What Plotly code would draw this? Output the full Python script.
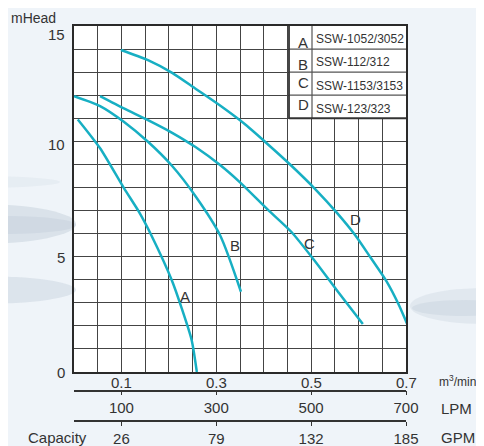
import plotly.graph_objects as go

# ---- data (capacity in m3/min vs head in m) ----
a_x = [0.008, 0.055, 0.105, 0.137, 0.163, 0.206, 0.227, 0.248, 0.259]
a_y = [10.95, 9.70, 7.98, 6.94, 5.93, 3.99, 2.77, 1.39, 0.0]
b_x = [0.0, 0.055, 0.105, 0.156, 0.207, 0.257, 0.308, 0.352]
b_y = [11.96, 11.53, 10.85, 9.98, 8.93, 7.6, 5.93, 3.48]
c_x = [0.055, 0.105, 0.156, 0.207, 0.257, 0.308, 0.350, 0.408, 0.458, 0.509, 0.559, 0.609]
c_y = [11.96, 11.43, 10.92, 10.37, 9.74, 8.97, 8.22, 7.05, 6.08, 4.78, 3.41, 2.08]
d_x = [0.099, 0.156, 0.207, 0.257, 0.308, 0.358, 0.405, 0.459, 0.509, 0.554, 0.593, 0.626,
       0.659, 0.684, 0.705]
d_y = [13.96, 13.52, 12.97, 12.27, 11.55, 10.78, 9.94, 8.93, 7.92, 6.91, 5.93, 4.94,
       3.93, 2.95, 1.96]

curve_letters = ["A", "B", "C", "D"]
curve_label_x = [0.235, 0.339, 0.496, 0.593]
curve_label_y = [3.29, 5.5, 5.58, 6.62]
models = ["SSW-1052/3052", "SSW-112/312", "SSW-1153/3153", "SSW-123/323"]

m3_ticks = [0.1, 0.3, 0.5, 0.7]
m3_labels = ["0.1", "0.3", "0.5", "0.7"]
lpm_labels = ["100", "300", "500", "700"]
gpm_labels = ["26", "79", "132", "185"]
y_ticks = [0, 5, 10, 15]

# page body has an 8px margin -> work in reference pixels, shifted
OFF = 8
W, H = 484 - OFF, 446 - OFF
L = 74 - OFF
T = 26 - OFF
R = W - (406 - OFF)
B = H - (430 - OFF)
PW, PH = W - L - R, H - T - B


def px_x(px):
    return (px - OFF - L) / PW


def px_y(py):
    return (H - B - (py - OFF)) / PH


CURVE = "#17afc3"
TXT = "#333333"
GRID = "#444444"
FONT = "Liberation Sans, Arial, sans-serif"

fig = go.Figure()
for xs, ys in [(a_x, a_y), (b_x, b_y), (c_x, c_y), (d_x, d_y)]:
    fig.add_trace(go.Scatter(x=xs, y=ys, mode="lines",
                             line=dict(color=CURVE, width=2.5, shape="spline", smoothing=0.7),
                             showlegend=False, hoverinfo="skip"))
# dummy traces for the extra capacity axes
fig.add_trace(go.Scatter(x=[None], y=[None], xaxis="x2", showlegend=False, hoverinfo="skip"))
fig.add_trace(go.Scatter(x=[None], y=[None], xaxis="x3", showlegend=False, hoverinfo="skip"))

main_bottom = px_y(372)

fig.update_layout(
    width=W, height=H,
    margin=dict(l=L, r=R, t=T, b=B, autoexpand=False),
    paper_bgcolor="#eff4f9",
    plot_bgcolor="white",
    font=dict(family=FONT, color=TXT, size=15),
    xaxis=dict(range=[0, 0.7], domain=[0, 1], tickmode="array", tickvals=m3_ticks,
               showticklabels=False, ticks="", showgrid=True,
               gridcolor=GRID, gridwidth=1, automargin=False,
               minor=dict(dtick=0.05, tick0=0, showgrid=True, gridcolor=GRID, gridwidth=1),
               showline=True, linecolor="#2a2a2a", linewidth=2, mirror=True,
               zeroline=False),
    yaxis=dict(range=[0, 15], domain=[main_bottom, 1], tickmode="array", tickvals=y_ticks,
               showticklabels=False, ticks="", showgrid=True, gridcolor=GRID, gridwidth=1,
               automargin=False,
               minor=dict(dtick=1, tick0=0, showgrid=True, gridcolor=GRID, gridwidth=1),
               showline=True, linecolor="#2a2a2a", linewidth=2, mirror=True,
               zeroline=False),
    xaxis2=dict(range=[0, 0.7], overlaying="x", anchor="free", position=px_y(390.7),
                side="bottom", tickmode="array", tickvals=m3_ticks, ticktext=lpm_labels,
                ticks="outside", ticklen=4, tickcolor="#333", showgrid=False, automargin=False,
                showline=True, linecolor="#333", linewidth=1.5, zeroline=False,
                tickfont=dict(size=15)),
    xaxis3=dict(range=[0, 0.7], overlaying="x", anchor="free", position=px_y(421),
                side="bottom", tickmode="array", tickvals=m3_ticks, ticktext=gpm_labels,
                ticks="outside", ticklen=4, tickcolor="#333", showgrid=False, automargin=False,
                showline=True, linecolor="#333", linewidth=1.5, zeroline=False,
                tickfont=dict(size=15)),
)

shapes = []
# soft background "splash" streaks in the margins
for (x0, x1, y0, y1, col, op) in [(-120, 76, 204, 244, "#cbd5e0", 0.6),
                                  (-120, 76, 276, 304, "#ced8e2", 0.6),
                                  (-120, 60, 176, 188, "#dde5ed", 0.5),
                                  (-60, 76, 216, 234, "#c3cfdb", 0.45),
                                  (410, 560, 288, 324, "#d6dee7", 0.55),
                                  (412, 520, 300, 316, "#c8d2dd", 0.45)]:
    shapes.append(dict(type="circle", xref="paper", yref="paper",
                       x0=px_x(x0), x1=px_x(x1), y0=px_y(y1), y1=px_y(y0),
                       fillcolor=col, opacity=op, line=dict(width=0), layer="below"))

# model table in upper right corner
tx0, tx1, tdiv = px_x(289), 1.0, px_x(312)
shapes.append(dict(type="rect", xref="x domain", yref="y", x0=tx0, x1=tx1, y0=11, y1=15,
                   fillcolor="white", line=dict(width=0), layer="above"))
for yv in [12, 13, 14]:
    shapes.append(dict(type="line", xref="x domain", yref="y", x0=tx0, x1=tx1, y0=yv, y1=yv,
                       line=dict(color="#555", width=1.2), layer="above"))
shapes.append(dict(type="line", xref="x domain", yref="y", x0=tdiv, x1=tdiv, y0=11, y1=15,
                   line=dict(color="#555", width=1.2), layer="above"))
shapes.append(dict(type="line", xref="x domain", yref="y", x0=tx0, x1=tx0, y0=11, y1=15,
                   line=dict(color="#333", width=1.8), layer="above"))
shapes.append(dict(type="line", xref="x domain", yref="y", x0=tx0, x1=tx1, y0=11, y1=11,
                   line=dict(color="#333", width=1.8), layer="above"))
fig.update_layout(shapes=shapes)

ann = []
letter_y = [14.3, 13.35, 12.57, 11.6]
model_y = [14.43, 13.42, 12.4, 11.4]
for i in range(4):
    ann.append(dict(xref="x domain", yref="y", x=px_x(303), y=letter_y[i], text=curve_letters[i],
                    xanchor="center", yanchor="middle", showarrow=False,
                    font=dict(size=15, color=TXT)))
    ann.append(dict(xref="x domain", yref="y", x=px_x(314), y=model_y[i], text=models[i],
                    xanchor="left", yanchor="middle", showarrow=False,
                    font=dict(size=12, color=TXT)))
    ann.append(dict(xref="x", yref="y", x=curve_label_x[i], y=curve_label_y[i],
                    text=curve_letters[i], xanchor="center", yanchor="middle",
                    showarrow=False, font=dict(size=15, color=TXT)))

# y tick labels (the printed labels sit slightly below their grid lines)
y_shift = [0, -1, -3.5, -8]
for v, s in zip(y_ticks, y_shift):
    ann.append(dict(xref="paper", yref="y", x=px_x(67), y=v, yshift=s, text=str(v),
                    xanchor="right", yanchor="middle", showarrow=False,
                    font=dict(size=15, color=TXT)))
# m3/min tick labels directly under the plot
for v, t in zip(m3_ticks, m3_labels):
    ann.append(dict(xref="x", yref="paper", x=v, y=px_y(382), text=t,
                    xanchor="center", yanchor="middle", showarrow=False,
                    font=dict(size=15, color=TXT)))

side_texts = [
    ("mHead", 9, 17.5, "left", 14),
    ("m<sup>3</sup>/min", 437, 381, "left", 12),
    ("LPM", 439, 408, "left", 15),
    ("GPM", 439, 437, "left", 15),
    ("Capacity", 89, 437, "right", 15),
]
for text, x, y, xa, fs in side_texts:
    ann.append(dict(xref="paper", yref="paper", x=px_x(x), y=px_y(y), text=text,
                    xanchor=xa, yanchor="middle", showarrow=False,
                    font=dict(size=fs, color=TXT)))
fig.update_layout(annotations=ann)

fig.write_html("out.html")
